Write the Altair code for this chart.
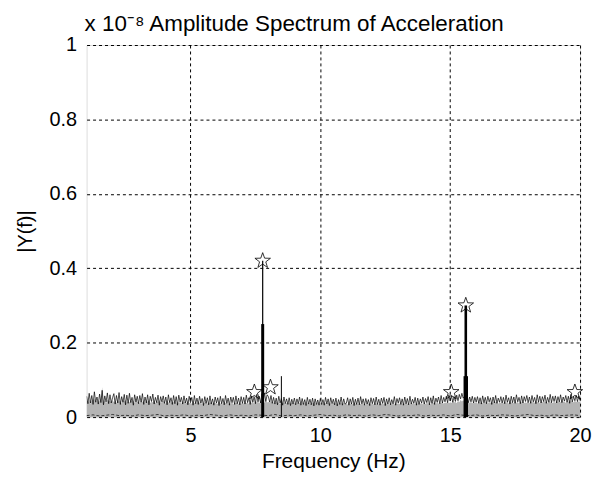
import altair as alt
import numpy as np
import pandas as pd

# ---- data (amplitudes in units of 1e-8; noise in thousandths of that unit) ----
freq_start = 1.0
freq_step = 0.05  # one row below = 1 Hz

gray_noise_milli = [
    44, 38, 47, 36, 45, 41, 50, 39, 46, 37, 43, 48, 80, 40, 45, 38, 47, 42, 44, 39,
    46, 40, 43, 37, 48, 41, 44, 36, 47, 42, 45, 38, 43, 39, 46, 41, 44, 37, 49, 40,
    42, 37, 45, 40, 43, 36, 47, 41, 44, 38, 42, 39, 46, 37, 43, 40, 45, 38, 41, 44,
    40, 36, 43, 38, 45, 37, 41, 39, 44, 35, 42, 38, 40, 36, 43, 39, 41, 37, 44, 38,
    39, 35, 42, 37, 40, 36, 43, 38, 41, 34, 39, 37, 42, 35, 40, 38, 41, 36, 39, 37,
    38, 35, 41, 36, 39, 34, 42, 37, 40, 35, 38, 36, 41, 34, 39, 37, 40, 35, 38, 36,
    39, 36, 42, 37, 40, 35, 43, 38, 41, 36, 44, 39, 42, 37, 45, 40, 43, 38, 44, 39,
    41, 37, 43, 38, 40, 36, 42, 37, 39, 35, 41, 36, 40, 34, 38, 37, 40, 35, 39, 36,
    38, 34, 40, 36, 39, 33, 41, 35, 38, 34, 40, 36, 37, 33, 39, 35, 38, 34, 40, 36,
    37, 34, 39, 35, 38, 33, 40, 36, 37, 34, 39, 35, 38, 33, 37, 35, 39, 34, 38, 36,
    36, 33, 39, 35, 37, 34, 40, 36, 38, 33, 37, 35, 39, 34, 36, 33, 38, 35, 37, 34,
    37, 34, 38, 35, 39, 33, 37, 36, 38, 34, 40, 35, 37, 33, 38, 36, 39, 34, 37, 35,
    38, 35, 39, 34, 37, 36, 40, 35, 38, 33, 39, 36, 37, 34, 40, 35, 38, 36, 39, 34,
    37, 35, 40, 36, 38, 34, 41, 37, 39, 35, 42, 36, 38, 37, 41, 36, 40, 38, 42, 37,
    40, 38, 43, 39, 41, 37, 44, 40, 46, 42, 45, 41, 43, 39, 42, 38, 41, 37, 40, 38,
    39, 36, 42, 38, 40, 37, 43, 39, 41, 36, 42, 38, 40, 37, 44, 39, 41, 36, 40, 38,
    39, 37, 42, 38, 41, 36, 43, 39, 40, 37, 44, 38, 41, 36, 42, 39, 43, 37, 40, 38,
    41, 37, 43, 39, 42, 38, 44, 40, 41, 37, 43, 39, 45, 40, 42, 38, 44, 39, 41, 37,
    42, 38, 44, 40, 43, 39, 45, 41, 42, 38, 44, 40, 46, 41, 43, 39, 45, 40, 43, 41,
    42,
]

black_noise_milli = [
    56, 36, 64, 38, 58, 34, 68, 40, 54, 35, 62, 39, 72, 33, 57, 41, 65, 36, 60, 38,
    52, 63, 35, 58, 38, 66, 34, 55, 40, 61, 33, 59, 37, 64, 39, 53, 32, 60, 41, 56,
    36, 58, 40, 63, 34, 54, 38, 60, 33, 56, 42, 62, 35, 53, 39, 59, 32, 55, 41, 57,
    37, 54, 33, 60, 39, 52, 34, 58, 36, 55, 32, 59, 40, 53, 35, 57, 38, 51, 33, 56,
    39, 53, 32, 58, 36, 51, 34, 56, 38, 50, 31, 55, 37, 52, 33, 57, 35, 49, 32, 54,
    38, 52, 31, 56, 36, 50, 33, 58, 37, 51, 32, 54, 39, 53, 34, 57, 36, 51, 33, 55,
    37, 53, 35, 59, 39, 52, 34, 57, 40, 55, 36, 61, 41, 56, 38, 63, 44, 65, 42, 60,
    55, 40, 58, 37, 53, 35, 51, 33, 56, 38, 50, 32, 54, 36, 49, 34, 52, 31, 48, 35,
    51, 33, 49, 36, 54, 32, 50, 34, 47, 31, 53, 35, 48, 33, 51, 30, 49, 34, 46, 32,
    50, 34, 47, 32, 53, 35, 49, 31, 52, 36, 48, 33, 51, 30, 47, 34, 54, 32, 49, 35,
    37, 52, 32, 49, 35, 53, 31, 48, 34, 51, 33, 55, 36, 49, 32, 50, 35, 47, 31, 52,
    36, 50, 33, 54, 34, 48, 32, 51, 37, 53, 31, 49, 35, 52, 33, 47, 36, 55, 32, 50,
    38, 52, 34, 49, 32, 54, 36, 50, 33, 56, 35, 48, 37, 53, 32, 51, 34, 49, 38, 54,
    35, 50, 39, 55, 33, 52, 37, 57, 34, 51, 40, 54, 36, 58, 38, 53, 41, 56, 39, 60,
    43, 57, 40, 55, 42, 59, 44, 61, 49, 64, 51, 55, 42, 58, 39, 54, 41, 56, 38, 53,
    40, 55, 37, 52, 35, 57, 39, 53, 36, 56, 41, 52, 34, 54, 38, 58, 37, 51, 40, 55,
    38, 53, 36, 59, 40, 52, 35, 56, 39, 54, 37, 60, 41, 53, 36, 57, 38, 55, 42, 58,
    39, 54, 37, 58, 41, 53, 36, 60, 40, 56, 38, 55, 42, 59, 37, 53, 40, 61, 39, 56,
    42, 57, 38, 55, 41, 60, 39, 54, 43, 58, 40, 56, 37, 61, 41, 55, 44, 59, 42, 57,
    44,
]

low_step = 0.25
low_noise_milli = [
    4, 6, 3, 5, 7, 4, 5, 3, 6, 4,
    5, 7, 3, 5, 4, 6, 3, 5, 4, 7,
    5, 3, 6, 4, 5, 3, 6, 5, 4, 7,
    3, 5, 4, 6, 3, 5, 7, 4, 5, 3,
    6, 4, 5, 3, 6, 4, 7, 5, 3, 5,
    4, 6, 3, 5, 4, 6, 3, 7, 5, 4,
    6, 3, 5, 4, 6, 5, 3, 5, 7, 4,
    5, 3, 6, 4, 5, 6, 4,
]

spike_freq = [7.78, 7.78, 8.50, 15.60, 15.60]
spike_amp = [0.42, 0.25, 0.11, 0.30, 0.11]
spike_width = [1.2, 3.0, 1.0, 2.6, 4.5]

star_freq = [7.46, 7.78, 8.08, 15.04, 15.60, 19.80]
star_amp = [0.067, 0.420, 0.080, 0.067, 0.300, 0.067]

x_ticks = [5, 10, 15, 20]
y_ticks = [0, 0.2, 0.4, 0.6, 0.8, 1.0]

# ---- tables ----
main_freq = np.round(freq_start + freq_step * np.arange(len(gray_noise_milli)), 3)
df_gray = pd.DataFrame({"f": main_freq, "a": np.array(gray_noise_milli) / 1000.0})
df_black = pd.DataFrame({"f": main_freq, "a": np.array(black_noise_milli) / 1000.0})
low_freq = np.round(freq_start + low_step * np.arange(len(low_noise_milli)), 3)
df_low = pd.DataFrame({"f": low_freq, "a": np.array(low_noise_milli) / 1000.0})
df_spike = pd.DataFrame({"f": spike_freq, "a": spike_amp, "w": spike_width,
                         "z": [0.0] * len(spike_freq)})
df_star = pd.DataFrame({"f": star_freq, "a": star_amp})

FONT = "Liberation Sans"

xscale = alt.Scale(domain=[1, 20], nice=False, zero=False)
yscale = alt.Scale(domain=[0, 1], nice=False)

xaxis = alt.Axis(values=x_ticks, title="Frequency (Hz)", grid=True, gridColor="black",
                 gridDash=[3, 3], gridWidth=1, gridOpacity=1, domain=False, ticks=False,
                 labelFontSize=20, labelPadding=9, titleFontSize=21,
                 titleFontWeight="normal", titlePadding=5, labelColor="black",
                 titleColor="black", labelFlush=False)
yaxis = alt.Axis(values=y_ticks, title="|Y(f)|", grid=True, gridColor="black",
                 gridDash=[3, 3], gridWidth=1, gridOpacity=1, domain=False, ticks=False,
                 format=".1~f", labelFontSize=20, labelPadding=10, titleFontSize=20,
                 titleFontWeight="normal", titlePadding=14, labelColor="black",
                 titleColor="black")

x_enc = alt.X("f:Q", scale=xscale, axis=xaxis)
y_enc = alt.Y("a:Q", scale=yscale, axis=yaxis)

gray = alt.Chart(df_gray).mark_area(color="#b4b4b4", opacity=1, clip=True).encode(
    x=x_enc, y=y_enc)

black = alt.Chart(df_black).mark_line(color="black", strokeWidth=0.7, clip=True).encode(
    x="f:Q", y="a:Q")

low = alt.Chart(df_low).mark_line(color="black", strokeWidth=0.7, strokeDash=[3, 2],
                                  clip=True).encode(x="f:Q", y="a:Q")

spikes = alt.Chart(df_spike).mark_rule(color="black", clip=True).encode(
    x="f:Q", y="z:Q", y2="a:Q",
    strokeWidth=alt.StrokeWidth("w:Q", scale=None, legend=None))

star_path = ("M0,-1L0.235,-0.324L0.951,-0.309L0.38,0.124L0.588,0.809L0,0.4"
             "L-0.588,0.809L-0.38,0.124L-0.951,-0.309L-0.235,-0.324Z")
stars = alt.Chart(df_star).mark_point(shape=star_path, size=270, filled=False,
                                      color="black", strokeWidth=0.8, opacity=1).encode(
    x="f:Q", y="a:Q")

chart = alt.layer(gray, black, low, spikes, stars).properties(
    width=496, height=374,
    title=alt.Title("x 10\u207b\u2078 Amplitude Spectrum of Acceleration",
                    anchor="start", frame="group", fontSize=22.5, fontWeight="normal",
                    font=FONT, color="black", offset=0, dx=-2),
    autosize=alt.AutoSizeParams(type="none"),
    padding=alt.Padding(left=79, top=36, right=12, bottom=56),
).configure_view(stroke="black", strokeWidth=1.2).configure_axis(
    labelFont=FONT, titleFont=FONT).configure(background="white")

chart.save("out.html", embed_options={"renderer": "svg", "actions": False})
